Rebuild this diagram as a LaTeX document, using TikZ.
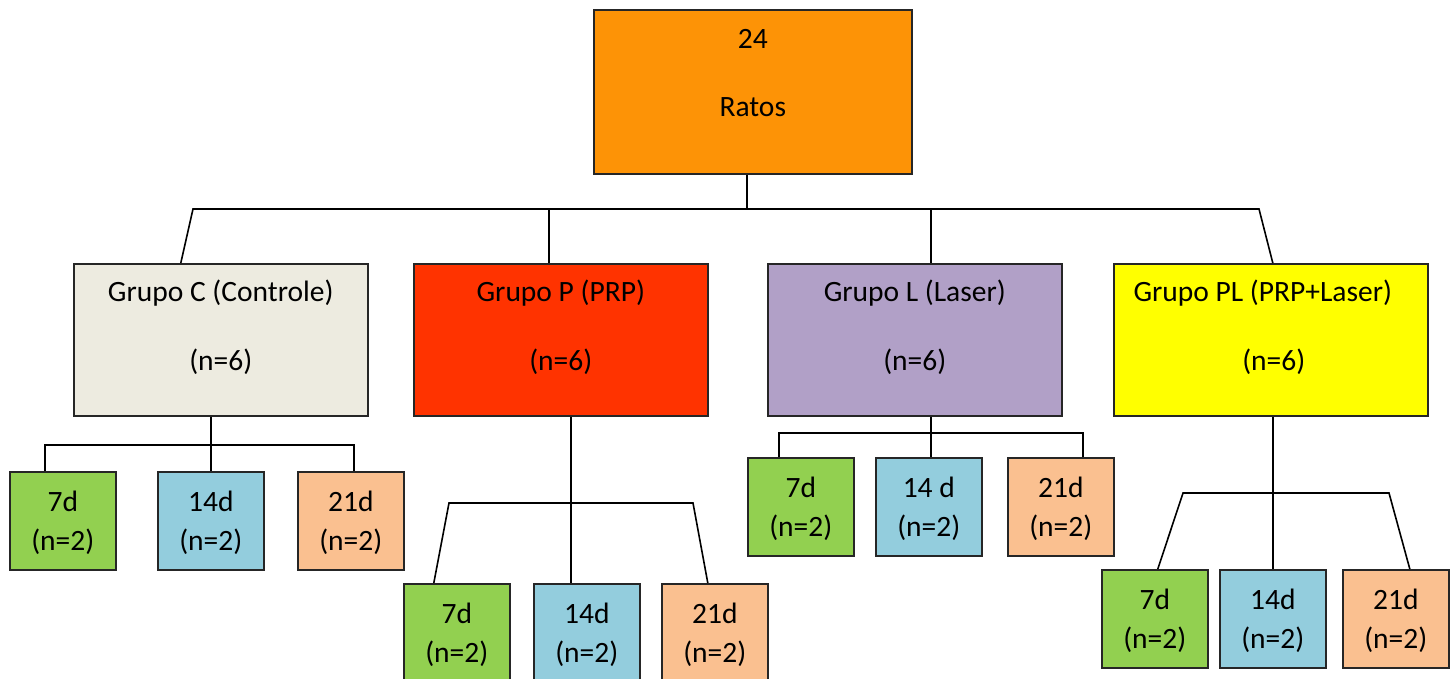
\documentclass[tikz,border=0pt]{standalone}
\usepackage{fontspec}
\setmainfont{Carlito}
\usepackage{tikz}

\definecolor{ratos}{HTML}{FD9306}
\definecolor{ctrl}{HTML}{EDEBE0}
\definecolor{prp}{HTML}{FF3300}
\definecolor{laser}{HTML}{B1A0C7}
\definecolor{prplaser}{HTML}{FFFF00}
\definecolor{d7}{HTML}{92D050}
\definecolor{d14}{HTML}{93CDDD}
\definecolor{d21}{HTML}{FAC090}

\tikzset{
  box/.style={draw=black!85, line width=1.6pt, anchor=north west, inner sep=0pt},
  txt/.style={anchor=center, inner sep=0pt},
  grp/.style n args={3}{box, fill=#1, minimum width=294pt, minimum height=152pt,
      label={[txt, yshift=-30pt]north:#2}, label={[txt, yshift=-99pt]north:#3}},
  day/.style n args={3}{box, fill=#1, minimum width=106pt, minimum height=98pt,
      label={[txt, yshift=-30pt]north:#2}, label={[txt, yshift=-71pt]north:#3}},
  link/.style={draw=black, line width=1.6pt}
}

\begin{document}
\begin{tikzpicture}[x=1pt, y=-1pt, font=\fontsize{29.5pt}{35pt}\selectfont]
\useasboundingbox (0,0) rectangle (1452,679);

\node[box, fill=ratos, minimum width=318pt, minimum height=164pt,
      label={[txt, yshift=-30pt]north:24}, label={[txt, yshift=-98pt]north:Ratos}] (R) at (593,9) {};

\node[grp={ctrl}{Grupo C (Controle)}{(n=6)}] (C) at (73,263) {};
\node[grp={prp}{Grupo P (PRP)}{(n=6)}] (P) at (413,263) {};
\node[grp={laser}{Grupo L (Laser)}{(n=6)}] (L) at (767,263) {};
\node[box, fill=prplaser, minimum width=314pt, minimum height=152pt,
      label={[txt, xshift=-8pt, yshift=-30pt]north:Grupo PL (PRP+Laser)},
      label={[txt, xshift=3pt, yshift=-99pt]north:(n=6)}] (PL) at (1113,263) {};

\node[day={d7}{7d}{(n=2)}] (C7) at (9,471) {};
\node[day={d14}{14d}{(n=2)}] (C14) at (157,471) {};
\node[day={d21}{21d}{(n=2)}] (C21) at (297,471) {};

\node[day={d7}{7d}{(n=2)}] (P7) at (403,583) {};
\node[day={d14}{14d}{(n=2)}] (P14) at (533,583) {};
\node[day={d21}{21d}{(n=2)}] (P21) at (661,583) {};

\node[day={d7}{7d}{(n=2)}] (L7) at (747,457) {};
\node[day={d14}{14 d}{(n=2)}] (L14) at (875,457) {};
\node[day={d21}{21d}{(n=2)}] (L21) at (1007,457) {};

\node[day={d7}{7d}{(n=2)}] (PL7) at (1101,569) {};
\node[day={d14}{14d}{(n=2)}] (PL14) at (1219,569) {};
\node[day={d21}{21d}{(n=2)}] (PL21) at (1342,569) {};

% junctions
\coordinate (t0) at (747,209);
\coordinate (tL) at (193,209);
\coordinate (tR) at (1259,209);
\coordinate (tP) at (549,209);
\coordinate (tLa) at (931,209);
\coordinate (c0) at (211,445);
\coordinate (cL) at (45,445);
\coordinate (cR) at (354,445);
\coordinate (p0) at (571,503);
\coordinate (pL) at (449,503);
\coordinate (pR) at (693,503);
\coordinate (l0) at (931,433);
\coordinate (lL) at (779,433);
\coordinate (lR) at (1083,433);
\coordinate (q0) at (1273,493);
\coordinate (qL) at (1183,493);
\coordinate (qR) at (1389,493);

\draw[link] (R.south -| t0) -- (t0);
\draw[link] ([xshift=-40pt]C.north) -- (tL) -- (tR) -- ([xshift=2pt]PL.north);
\draw[link] (tP) -- (P.north -| tP);
\draw[link] (tLa) -- (L.north -| tLa);

\draw[link] (C.south -| c0) -- (C14.north -| c0);
\draw[link] (C7.north -| cL) -- (cL) -- (cR) -- (C21.north -| cR);

\draw[link] (P.south -| p0) -- (P14.north -| p0);
\draw[link] ([xshift=-23pt]P7.north) -- (pL) -- (pR) -- ([xshift=-7pt]P21.north);

\draw[link] (L.south -| l0) -- (L14.north -| l0);
\draw[link] (L7.north -| lL) -- (lL) -- (lR) -- (L21.north -| lR);

\draw[link] (PL.south -| q0) -- (PL14.north -| q0);
\draw[link] ([xshift=3pt]PL7.north) -- (qL) -- (qR) -- ([xshift=14pt]PL21.north);
\end{tikzpicture}
\end{document}
